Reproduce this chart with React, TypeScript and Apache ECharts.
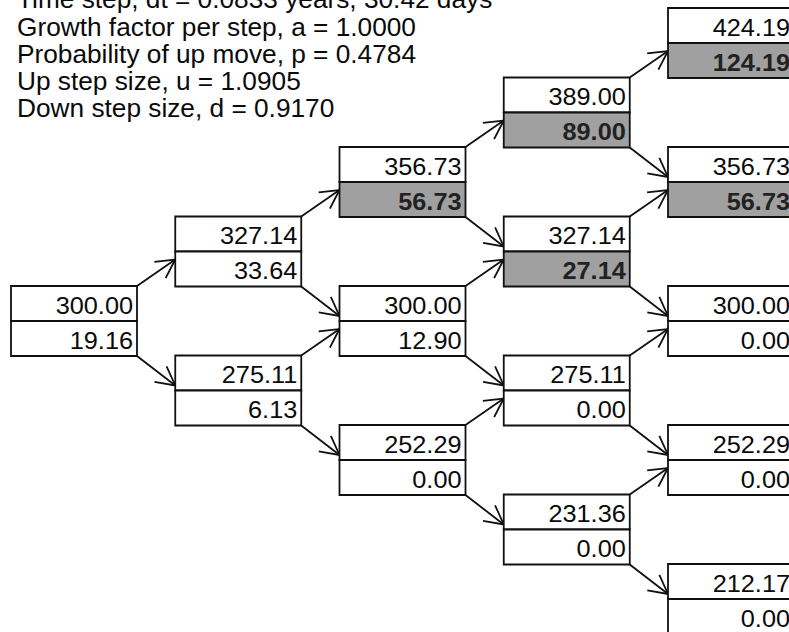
import React, { useEffect, useRef } from "react";
import * as echarts from "echarts";

// Header parameter lines
const headerLines = [
  "Time step, dt = 0.0833 years, 30.42 days",
  "Growth factor per step, a = 1.0000",
  "Probability of up move, p = 0.4784",
  "Up step size, u = 1.0905",
  "Down step size, d = 0.9170",
];

// Tree data per time step (top node first)
const steps = [0, 1, 2, 3, 4];
const stockPrices = [
  [300.0],
  [327.14, 275.11],
  [356.73, 300.0, 252.29],
  [389.0, 327.14, 275.11, 231.36],
  [424.19, 356.73, 300.0, 252.29, 212.17],
];
const optionValues = [
  [19.16],
  [33.64, 6.13],
  [56.73, 12.9, 0.0],
  [89.0, 27.14, 0.0, 0.0],
  [124.19, 56.73, 0.0, 0.0, 0.0],
];
const exercised = [
  [false],
  [false, false],
  [true, false, false],
  [true, true, false, false],
  [true, true, false, false, false],
];

const BOX_W = 126;
const CELL_H = 35;
const FONT = '"Liberation Sans", Arial, Helvetica, sans-serif';

export default function App() {
  const ref = useRef<HTMLDivElement>(null);

  useEffect(() => {
    if (!ref.current) return;
    const chart = echarts.init(ref.current, null, { renderer: "svg" });

    // nodes: [step, level], with labels looked up by index
    const nodeData: number[][] = [];
    const nodeInfo: { price: number; value: number; ex: boolean }[] = [];
    steps.forEach((n) => {
      stockPrices[n].forEach((price, i) => {
        const level = n - 2 * i;
        nodeData.push([n, level]);
        nodeInfo.push({ price, value: optionValues[n][i], ex: exercised[n][i] });
      });
    });

    // edges: [fromStep, fromLevel, toLevel]
    const edgeData: number[][] = [];
    steps.forEach((n) => {
      if (n === steps.length - 1) return;
      stockPrices[n].forEach((_, i) => {
        const level = n - 2 * i;
        edgeData.push([n, level, level + 1]);
        edgeData.push([n, level, level - 1]);
      });
    });

    const headerGraphics = headerLines.map((t, i) => ({
      type: "text",
      x: 17,
      y: 12 + i * 27.3,
      scaleX: 1.05,
      style: {
        text: t,
        x: 0,
        y: 0,
        fill: "#0a0a0a",
        font: `25px ${FONT}`,
        textAlign: "left",
        textVerticalAlign: "bottom",
      },
    }));

    const option: any = {
      animation: false,
      backgroundColor: "#ffffff",
      grid: { left: 11, top: 43, width: 657, height: 556 },
      xAxis: { type: "value", min: 0, max: 4, show: false },
      yAxis: { type: "value", min: -4, max: 4, show: false },
      graphic: headerGraphics,
      series: [
        {
          type: "custom",
          clip: false,
          z: 1,
          data: edgeData,
          renderItem: (params: any, api: any) => {
            const s = api.value(0);
            const fl = api.value(1);
            const tl = api.value(2);
            const up = tl > fl;
            const src = api.coord([s, fl]);
            const dst = api.coord([s + 1, tl]);
            const x1 = src[0] + BOX_W;
            const y1 = up ? src[1] - CELL_H : src[1] + CELL_H;
            const x2 = dst[0];
            const y2 = up ? dst[1] + 8 : dst[1] - 5;
            const ang = Math.atan2(y2 - y1, x2 - x1);
            const L = 21;
            const ha = (28 * Math.PI) / 180;
            const b1 = [x2 - L * Math.cos(ang - ha), y2 - L * Math.sin(ang - ha)];
            const b2 = [x2 - L * Math.cos(ang + ha), y2 - L * Math.sin(ang + ha)];
            return {
              type: "group",
              children: [
                {
                  type: "line",
                  shape: { x1, y1, x2, y2 },
                  style: { stroke: "#111", lineWidth: 1.8 },
                },
                {
                  type: "polyline",
                  shape: { points: [b1, [x2, y2], b2] },
                  style: { stroke: "#111", lineWidth: 1.8, fill: "none" },
                },
              ],
            };
          },
        },
        {
          type: "custom",
          clip: false,
          z: 2,
          data: nodeData,
          renderItem: (params: any, api: any) => {
            const info = nodeInfo[params.dataIndex];
            const p = api.coord([api.value(0), api.value(1)]);
            const left = p[0];
            const mid = p[1];
            const right = left + BOX_W;
            return {
              type: "group",
              children: [
                {
                  type: "rect",
                  shape: { x: left, y: mid - CELL_H, width: BOX_W, height: CELL_H },
                  style: { fill: "#ffffff", stroke: "#111", lineWidth: 1.8 },
                },
                {
                  type: "rect",
                  shape: { x: left, y: mid, width: BOX_W, height: CELL_H },
                  style: {
                    fill: info.ex ? "#a0a0a0" : "#ffffff",
                    stroke: "#111",
                    lineWidth: 1.8,
                  },
                },
                {
                  type: "text",
                  x: right - 4,
                  y: mid - CELL_H / 2 + 2,
                  scaleX: 1.1,
                  style: {
                    text: info.price.toFixed(2),
                    x: 0,
                    y: 0,
                    fill: "#0a0a0a",
                    font: `23px ${FONT}`,
                    textAlign: "right",
                    textVerticalAlign: "middle",
                  },
                },
                {
                  type: "text",
                  x: right - 4,
                  y: mid + CELL_H / 2 + 2,
                  scaleX: 1.1,
                  style: {
                    text: info.value.toFixed(2),
                    x: 0,
                    y: 0,
                    fill: info.ex ? "#222" : "#0a0a0a",
                    font: `${info.ex ? "bold " : ""}23px ${FONT}`,
                    textAlign: "right",
                    textVerticalAlign: "middle",
                  },
                },
              ],
            };
          },
        },
      ],
    };

    chart.setOption(option);
    return () => chart.dispose();
  }, []);

  return (
    <div
      ref={ref}
      style={{ position: "fixed", left: 0, top: 0, width: 789, height: 632 }}
    />
  );
}
